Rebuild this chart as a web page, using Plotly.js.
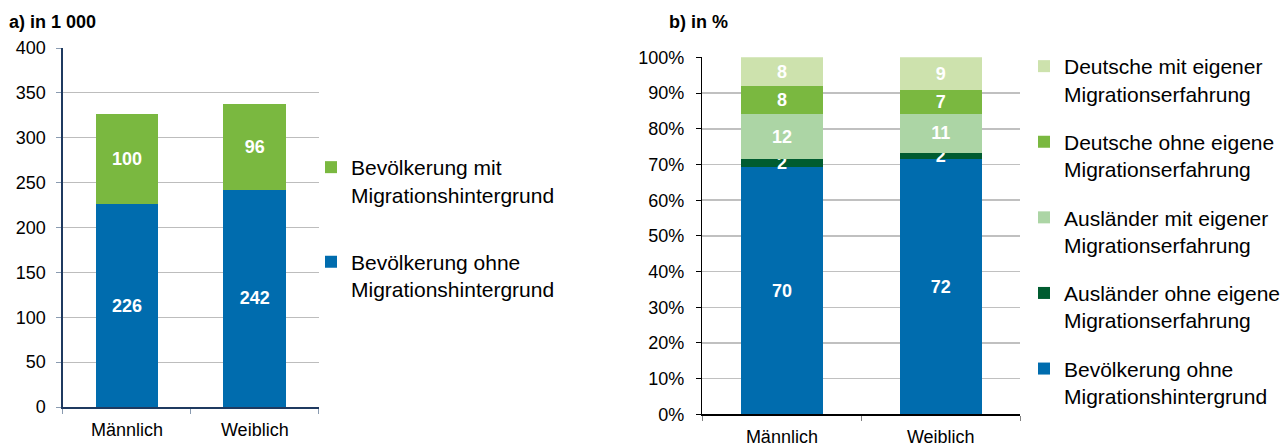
<!DOCTYPE html>
<html>
<head>
<meta charset="utf-8">
<script src="https://cdn.plot.ly/plotly-3.0.1.min.js"></script>
<style>html,body{margin:0;padding:0;background:#fff;}#chart{width:1286px;height:443px;}</style>
</head>
<body>
<div id="chart"></div>
<script>
// ---- data ----
const categories = ["Männlich", "Weiblich"];

// a) in 1 000
const ohneMigA = [226, 242];
const mitMigA = [100, 96];
const yTicksA = [0, 50, 100, 150, 200, 250, 300, 350, 400];

// b) in % (segment shares; labels as printed)
const ohneMigB = [69.2, 71.5];
const auslOhne = [2.4, 1.7];
const auslMit = [12.5, 11.1];
const deutOhne = [7.9, 6.7];
const deutMit = [8.0, 9.0];
const ohneMigBLabels = ["70", "72"];
const auslOhneLabels = ["2", "2"];
const auslMitLabels = ["12", "11"];
const deutOhneLabels = ["8", "7"];
const deutMitLabels = ["8", "9"];
const yTicksB = [0, 10, 20, 30, 40, 50, 60, 70, 80, 90, 100];
const yTickTextB = yTicksB.map(v => v + "%");

const FONT = "Liberation Sans, Arial, sans-serif";
const C_BLUE = "#006cae", C_GREEN = "#7ab840", C_LIGHT = "#acd5a5", C_LIGHTEST = "#cde2ad", C_DARK = "#005c30";

const lblFont = {family: FONT, size: 18, color: "#ffffff", weight: "bold"};

function barA(name, y, color, rank) {
  return {type: "bar", x: categories, y: y, name: name, marker: {color: color},
    width: 0.49, text: y.map(String), texttemplate: "<b>%{text}</b>", textposition: "inside",
    insidetextanchor: "middle", constraintext: "none", textangle: 0, textfont: lblFont,
    xaxis: "x", yaxis: "y", legend: "legend", legendgroup: "a" + rank, legendrank: rank, hoverinfo: "skip"};
}
function barB(name, y, labels, color, rank) {
  return {type: "bar", x: categories, y: y, name: name, marker: {color: color},
    width: 0.516, text: labels, texttemplate: "<b>%{text}</b>", textposition: "inside",
    insidetextanchor: "middle", constraintext: "none", textangle: 0, textfont: lblFont, cliponaxis: false,
    xaxis: "x2", yaxis: "y2", legend: "legend2", legendgroup: "b" + rank, legendrank: rank, hoverinfo: "skip"};
}

const traces = [
  barA("Bevölkerung ohne<br>Migrationshintergrund", ohneMigA, C_BLUE, 2),
  barA("Bevölkerung mit<br>Migrationshintergrund", mitMigA, C_GREEN, 1),
  barB("Bevölkerung ohne<br>Migrationshintergrund", ohneMigB, ohneMigBLabels, C_BLUE, 5),
  barB("Ausländer ohne eigene<br>Migrationserfahrung", auslOhne, auslOhneLabels, C_DARK, 4),
  barB("Ausländer mit eigener<br>Migrationserfahrung", auslMit, auslMitLabels, C_LIGHT, 3),
  barB("Deutsche ohne eigene<br>Migrationserfahrung", deutOhne, deutOhneLabels, C_GREEN, 2),
  barB("Deutsche mit eigener<br>Migrationserfahrung", deutMit, deutMitLabels, C_LIGHTEST, 1)
];

const tickFont = {family: FONT, size: 18, color: "#000"};
const W = 1286, H = 443;

const layout = {
  width: W, height: H,
  margin: {l: 0, r: 0, t: 0, b: 0},
  paper_bgcolor: "#fff", plot_bgcolor: "rgba(0,0,0,0)",
  barmode: "stack",
  font: {family: FONT, size: 18, color: "#000"},
  showlegend: true,
  xaxis: {domain: [63 / W, 319 / W], anchor: "y", type: "category",
    tickfont: tickFont, showline: true, linecolor: "#1f3a60", linewidth: 1.5,
    ticks: "outside", tickson: "boundaries", ticklen: 5, tickcolor: "#8a9bb0",
    showgrid: false, zeroline: false, ticklabelstandoff: 6},
  yaxis: {domain: [(H - 407) / H, (H - 48) / H], anchor: "x", range: [0, 400],
    tickvals: yTicksA, ticktext: yTicksA.map(String), tickfont: tickFont,
    showline: true, linecolor: "#1f3a60", linewidth: 1.5,
    ticks: "outside", ticklen: 5, tickcolor: "#8a9bb0",
    showgrid: true, gridcolor: "#bdbdbd", gridwidth: 1, zeroline: false, ticklabelstandoff: 7},
  xaxis2: {domain: [703 / W, 1021 / W], anchor: "y2", type: "category",
    tickfont: tickFont, showline: true, linecolor: "#000", linewidth: 1.5,
    ticks: "outside", tickson: "boundaries", ticklen: 5, tickcolor: "#808080",
    showgrid: false, zeroline: false, ticklabelstandoff: 6},
  yaxis2: {domain: [(H - 414.3) / H, (H - 57.3) / H], anchor: "x2", range: [0, 100.05],
    tickvals: yTicksB, ticktext: yTickTextB, tickfont: tickFont,
    showline: true, linecolor: "#000", linewidth: 1.5,
    ticks: "outside", ticklen: 5, tickcolor: "#000",
    showgrid: true, gridcolor: "#c0c0c0", gridwidth: 1.5, zeroline: false, ticklabelstandoff: 8},
  legend: {x: 311 / W, y: (H - 147) / H, xanchor: "left", yanchor: "top",
    traceorder: "grouped", tracegroupgap: 37, valign: "top",
    font: {family: FONT, size: 21, color: "#000"}, bgcolor: "rgba(0,0,0,0)"},
  legend2: {x: 1025 / W, y: (H - 46) / H, xanchor: "left", yanchor: "top",
    traceorder: "grouped", tracegroupgap: 18, valign: "top",
    font: {family: FONT, size: 21, color: "#000"}, bgcolor: "rgba(0,0,0,0)"},
  annotations: [
    {text: "<b>a) in 1 000</b>", xref: "paper", yref: "paper", x: 7 / W, y: (H - 22) / H,
      xanchor: "left", yanchor: "middle", showarrow: false, font: {family: FONT, size: 18, color: "#000"}},
    {text: "<b>b) in %</b>", xref: "paper", yref: "paper", x: 668 / W, y: (H - 22) / H,
      xanchor: "left", yanchor: "middle", showarrow: false, font: {family: FONT, size: 18, color: "#000"}}
  ]
};

Plotly.newPlot("chart", traces, layout, {staticPlot: true, displayModeBar: false});
</script>
</body>
</html>
